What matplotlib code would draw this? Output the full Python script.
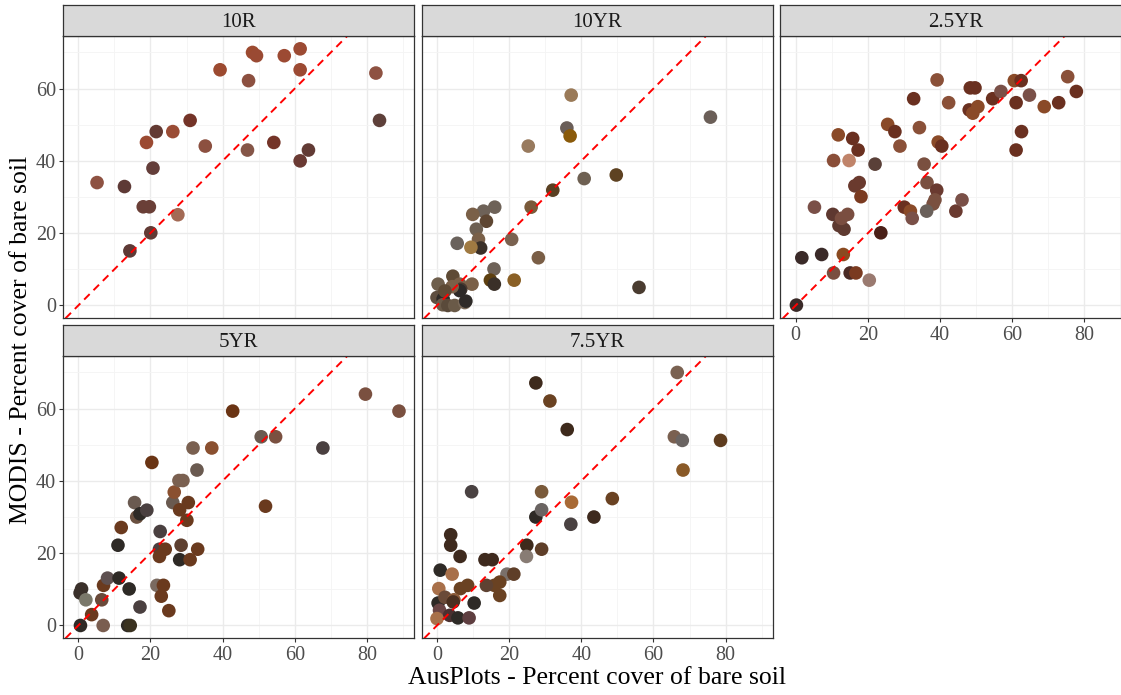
import numpy as np
import matplotlib.pyplot as plt
from matplotlib.ticker import FixedLocator

plt.rcParams['font.family'] = ['Liberation Serif', 'DejaVu Serif']

# ---- data: AusPlots (x) vs MODIS (y) bare soil cover, per Munsell hue ----
hues = ['10R', '10YR', '2.5YR', '5YR', '7.5YR']

x_10r = [5.2, 12.8, 14.3, 18.0, 19.7, 20.1, 20.7, 18.9, 21.6, 26.2, 27.6, 31.0, 35.2,
         39.3, 47.2, 46.9, 48.3, 49.4, 54.2, 57.1, 61.5, 61.5, 61.5, 63.8, 82.5, 83.5]
y_10r = [34.0, 32.9, 15.1, 27.3, 27.3, 20.1, 38.0, 45.1, 48.1, 48.1, 25.1, 51.2, 44.1,
         65.2, 62.2, 43.0, 70.0, 69.1, 45.1, 69.1, 71.0, 65.2, 40.0, 43.0, 64.3, 51.2]
c_10r = ['#8E5242', '#5E3A36', '#5E3A36', '#6A3F37', '#6A3F37', '#623B35', '#643E3A',
         '#9B4A32', '#633A33', '#9A4C35', '#A36A55', '#743428', '#8C5040', '#9C4A30',
         '#8C5040', '#855648', '#9C4A30', '#9A4A33', '#743428', '#9C4A33', '#9C4A33',
         '#9C4A33', '#6A3A33', '#623B35', '#8E5242', '#5E403A']

x_10yr = [37.2, 75.8, 36.0, 36.9, 25.3, 49.7, 40.8, 32.1, 26.1, 16.0, 12.9, 9.9, 13.7,
          10.9, 11.5, 5.6, 12.1, 9.4, 20.7, 28.1, 15.8, 21.4, 14.8, 15.9, 56.0, 9.7,
          4.4, 0.3, 6.3, 6.6, 6.3, 0.0, 1.7, 1.6, 3.0, 4.9, 7.7, 8.0, 4.2, 2.2]
y_10yr = [58.2, 52.1, 49.1, 46.9, 44.1, 36.1, 35.1, 31.9, 27.2, 27.2, 26.1, 25.2, 23.3,
          21.1, 18.3, 17.2, 15.9, 16.1, 18.3, 13.2, 10.1, 7.0, 7.0, 5.9, 5.0, 5.9,
          8.1, 5.9, 5.9, 4.5, 4.1, 2.2, 1.8, 0.2, 0.0, 0.0, 0.8, 1.2, 5.2, 4.0]
c_10yr = ['#9A7A58', '#6B5F58', '#6A5E58', '#8A5A0A', '#987A5E', '#5E4222', '#6E6052',
          '#5A4022', '#7A5A3A', '#6E6258', '#6E6258', '#7A6048', '#5E4632', '#6E6052',
          '#7A6048', '#6A625C', '#3A3028', '#A07A42', '#7A6250', '#7A5E46', '#6E6258',
          '#8A6026', '#5E4010', '#3A3028', '#4A3C30', '#7A6048', '#5E4A35', '#6E5E4C',
          '#7A6048', '#4A3A30', '#2E2A28', '#5E4E40', '#2E2A28', '#6A5A48', '#5A4A3A',
          '#6A5A48', '#7A6A5A', '#2E2A28', '#7A6048', '#5E4A35']

x_25yr = [0.2, 1.7, 7.2, 10.5, 15.1, 16.7, 13.2, 20.4, 23.6, 5.2, 10.3, 12.0, 13.4, 14.4,
          12.7, 16.4, 17.6, 18.1, 10.5, 14.8, 11.8, 15.8, 17.3, 22.0, 25.5, 27.5, 28.9,
          32.7, 34.3, 30.1, 31.8, 32.3, 35.6, 36.4, 39.1, 38.6, 38.1, 36.3, 44.4, 46.1,
          39.2, 39.5, 40.5, 42.4, 48.4, 49.7, 48.1, 49.1, 50.5, 54.6, 56.9, 60.6, 62.5,
          61.1, 64.8, 62.6, 61.1, 68.9, 72.9, 75.4, 77.8]
y_25yr = [0.1, 13.2, 14.1, 9.0, 9.0, 9.0, 14.1, 7.0, 20.1, 27.2, 25.2, 22.1, 21.1, 25.2,
          24.1, 33.1, 34.0, 30.1, 40.1, 40.1, 47.2, 46.2, 43.0, 39.1, 50.1, 48.1, 44.1,
          57.2, 49.2, 27.2, 26.1, 24.1, 39.1, 34.0, 31.9, 29.2, 28.1, 26.1, 26.1, 29.2,
          62.4, 45.2, 44.1, 56.1, 60.2, 60.2, 54.1, 53.2, 55.0, 57.2, 59.2, 62.2, 62.2,
          56.1, 58.2, 48.1, 43.0, 55.0, 56.1, 63.3, 59.2]
c_25yr = ['#3A2A28', '#3A2A28', '#3A2A28', '#7A4E40', '#4A2A25', '#7A3A20', '#8A4A20',
          '#9A7A70', '#4A2018', '#7A5048', '#5E3830', '#5E3A30', '#5E3A30', '#7A4E40',
          '#7A4E40', '#6A3A2E', '#6A3A2E', '#7A3A20', '#8A4E38', '#C0846A', '#8A4A28',
          '#6A3020', '#6A3020', '#5A4038', '#8A4A28', '#6A3020', '#8A5038', '#6A3020',
          '#8A5038', '#6A3020', '#8A4A28', '#7A5048', '#7A5040', '#7A5040', '#6A3A30',
          '#7A5040', '#7A5040', '#6A605A', '#6A3A30', '#7A5048', '#8A5038', '#8A4A28',
          '#6A3020', '#8A5038', '#6A3020', '#6A3020', '#6A3020', '#8A4A28', '#8A4A28',
          '#6A3020', '#7A5048', '#8A4A28', '#6A3020', '#6A3020', '#7A5048', '#6A3020',
          '#6A3020', '#8A4A28', '#6A3020', '#8A5038', '#6A3020']

x_5yr = [0.6, 0.9, 0.5, 2.1, 3.7, 6.5, 6.9, 7.0, 8.1, 11.3, 11.0, 11.9, 14.1, 13.7, 14.4,
         17.1, 15.6, 16.2, 17.1, 19.0, 20.4, 21.8, 23.6, 23.0, 25.1, 22.7, 22.5, 24.1,
         22.5, 26.2, 26.6, 27.9, 29.0, 28.1, 30.5, 30.1, 28.5, 28.1, 31.0, 33.1, 31.8,
         32.9, 37.0, 42.8, 50.7, 54.7, 51.9, 67.8, 79.6, 88.9]
y_5yr = [0.0, 10.1, 9.0, 7.1, 3.0, 7.1, 0.0, 11.1, 13.1, 13.1, 22.2, 27.1, 10.1, 0.0, 0.0,
         5.1, 34.0, 30.0, 30.9, 31.9, 45.1, 11.1, 11.1, 8.1, 4.1, 26.0, 21.1, 21.1, 19.1,
         34.0, 36.9, 40.1, 40.1, 32.0, 34.0, 29.1, 22.2, 18.2, 18.2, 21.1, 49.1, 43.0,
         49.1, 59.3, 52.2, 52.2, 33.0, 49.1, 64.0, 59.3]
c_5yr = ['#2E2A26', '#3A302A', '#3A302A', '#7A786A', '#6A3A1E', '#6A4A3A', '#7A5E50',
         '#6A3A1E', '#5E5050', '#2E2A26', '#2E2A26', '#6A3A1E', '#2E2A26', '#2E2A26',
         '#3A3220', '#4A4040', '#6A5A50', '#6A5040', '#2E2A26', '#4A4040', '#6A3414',
         '#7A6A60', '#6A3A1E', '#6A3A1E', '#6A3A1E', '#4A4040', '#4A4040', '#6A3A1E',
         '#6A3A1E', '#6A5A50', '#8A5030', '#7A6050', '#7A6050', '#6A3A1E', '#6A3A1E',
         '#6A3A1E', '#5E4030', '#2E2A26', '#6A3A1E', '#6A3A1E', '#7A6050', '#6A5A50',
         '#8A5030', '#6A3414', '#6A5A50', '#7A5040', '#6A3A1E', '#4A4040', '#7A5040',
         '#7A5040']

x_75yr = [66.6, 65.8, 68.0, 78.6, 68.2, 27.4, 31.3, 36.1, 9.6, 29.0, 37.3, 48.6, 27.4,
          29.0, 43.5, 37.1, 24.9, 29.0, 24.8, 3.8, 3.8, 6.4, 13.3, 15.3, 0.9, 4.2, 19.4,
          21.3, 17.4, 15.9, 13.7, 8.5, 6.5, 17.4, 0.5, 10.3, 0.3, 2.2, 4.7, 4.5, 0.7, 3.5,
          5.8, 8.9, 0.0]
y_75yr = [70.0, 52.2, 51.2, 51.2, 43.0, 67.1, 62.1, 54.2, 37.0, 37.0, 34.1, 35.1, 30.0,
          32.0, 30.0, 28.0, 22.2, 21.1, 19.1, 25.1, 22.2, 19.1, 18.2, 18.2, 15.3, 14.2,
          14.2, 14.2, 12.0, 11.1, 11.1, 11.1, 10.2, 8.3, 10.2, 6.2, 6.2, 7.8, 7.1, 6.5,
          4.2, 2.8, 2.1, 2.1, 1.9]
c_75yr = ['#7A6252', '#7A6050', '#6A6462', '#5E3C1E', '#8A5A28', '#3E2A1C', '#6A4222',
          '#3E2A1C', '#4A4242', '#7A5A3A', '#A86A36', '#6A4222', '#2E2A26', '#6A6462',
          '#3E2A1E', '#4A4242', '#3E2A1C', '#5E3E28', '#887C74', '#3E2A1E', '#3E2A1E',
          '#3E2A1E', '#3E2A1E', '#3E2A1E', '#2E2A26', '#A8704A', '#7A706A', '#5E3E28',
          '#6A4222', '#6A4222', '#5E4232', '#6A4222', '#6A4222', '#6A4222', '#A8704A',
          '#2E2A26', '#2E2A26', '#6A4A38', '#8A5A38', '#4A3020', '#6A4444', '#4A3030',
          '#2E2A26', '#5E3E40', '#A8704A']

series = {
    '10R': (x_10r, y_10r, c_10r),
    '10YR': (x_10yr, y_10yr, c_10yr),
    '2.5YR': (x_25yr, y_25yr, c_25yr),
    '5YR': (x_5yr, y_5yr, c_5yr),
    '7.5YR': (x_75yr, y_75yr, c_75yr),
}

# ---- facet layout (pixel grid, 3 columns x 2 rows) ----
W, H = 1121, 695
fig = plt.figure(figsize=(W / 100, H / 100), dpi=100)


def box(left, top, w, h):
    return [left / W, 1 - (top + h) / H, w / W, h / H]


col_left = [63, 421.7, 780.4]
row_top = [36, 356]
pw, ph, sh = 351, 282.3, 31

for k, hue in enumerate(hues):
    r, c = divmod(k, 3)
    ax = fig.add_axes(box(col_left[c], row_top[r], pw, ph))
    sx = fig.add_axes(box(col_left[c], row_top[r] - sh, pw, sh))

    x, y, col = series[hue]
    ax.scatter(x, y, s=96, c=col, linewidths=0, zorder=3)
    ax.axline((0, 0), slope=1, color='red', lw=1.4, dashes=(4, 2.8), zorder=4)

    ax.set_xlim(-4.24, 93.06)
    ax.set_ylim(-3.55, 74.55)
    ax.xaxis.set_major_locator(FixedLocator([0, 20, 40, 60, 80]))
    ax.xaxis.set_minor_locator(FixedLocator([10, 30, 50, 70, 90]))
    ax.yaxis.set_major_locator(FixedLocator([0, 20, 40, 60]))
    ax.yaxis.set_minor_locator(FixedLocator([10, 30, 50, 70]))
    ax.grid(which='major', color='#EBEBEB', lw=1.0, zorder=0)
    ax.grid(which='minor', color='#F4F4F4', lw=0.6, zorder=0)
    ax.set_axisbelow(True)
    for sp in ax.spines.values():
        sp.set_color('#333333')
        sp.set_linewidth(0.9)

    ax.tick_params(which='minor', length=0)
    ax.tick_params(which='major', length=3.2, width=0.8, color='#333333',
                   labelcolor='#4D4D4D', labelsize=14.5, pad=2)
    ax.tick_params(axis='x', bottom=(r == 1 or c == 2), labelbottom=(r == 1 or c == 2))
    ax.tick_params(axis='y', left=(c == 0), labelleft=(c == 0))

    sx.set_facecolor('#D9D9D9')
    sx.set_xticks([])
    sx.set_yticks([])
    for sp in sx.spines.values():
        sp.set_color('#333333')
        sp.set_linewidth(0.9)
    sx.text(0.5, 0.45, hue, ha='center', va='center', fontsize=15,
            color='#1A1A1A', transform=sx.transAxes)

fig.text(597 / W, 1 - 678 / H, 'AusPlots - Percent cover of bare soil',
         ha='center', va='center', fontsize=18.5, color='black')
fig.text(21 / W, 1 - 340 / H, 'MODIS - Percent cover of bare soil',
         ha='center', va='center', rotation=90, fontsize=18.5, color='black')

fig.savefig('out.png', dpi=100)
